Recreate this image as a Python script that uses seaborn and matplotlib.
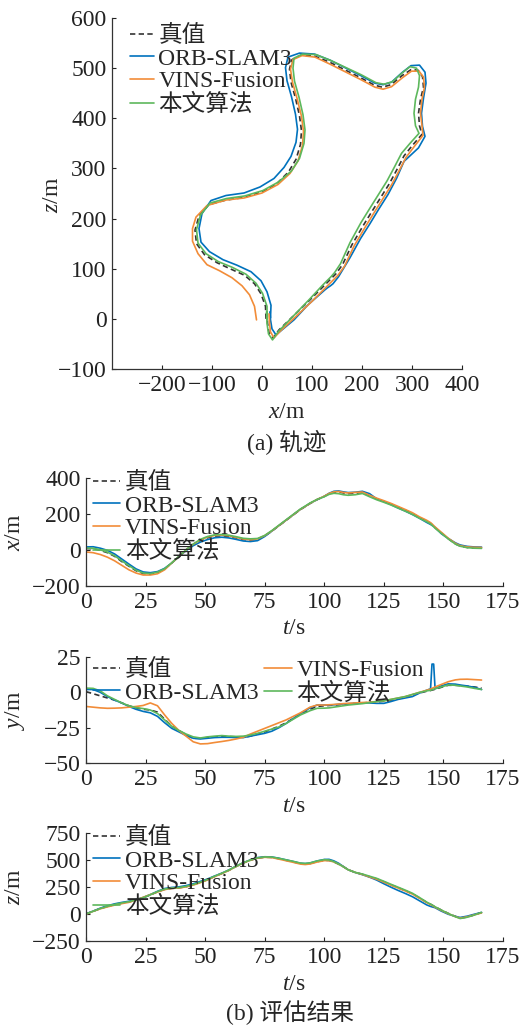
import matplotlib
matplotlib.use("Agg")
import matplotlib.pyplot as plt
import seaborn as sns

# time stamps (s)
T = [0, 3, 6, 9, 12, 15, 18, 21, 24, 27, 30, 33, 36, 39, 42, 45, 48, 51, 54, 57,
     60, 63, 66, 69, 72, 75, 78, 81, 84, 87, 90, 92, 94, 97, 100, 102, 104, 106, 108, 110,
     113, 116, 119, 122, 125, 128, 131, 134, 137, 140, 143, 144.6, 145.2, 145.9, 146.5,
     149, 152, 155, 157, 160, 163, 166]

# ground truth
GT_X = [8, 7, -2, -15, -35, -64, -90, -115, -131, -134, -126, -106, -72, -36, 0, 30, 53, 68, 77, 79,
        75, 67, 58, 55, 60, 78, 105, 135, 165, 195, 225, 241, 258, 280, 298, 312, 321, 323, 317, 313,
        315, 320, 300, 284, 270, 255, 238, 221, 203, 180, 161, 148, 141, 132, 124, 96, 63, 34, 22, 14, 11, 10]
GT_Y = [0.5, -1, -2.5, -4, -5.5, -7.5, -9.5, -11, -12, -12.5, -14, -19, -24, -27, -30, -32.5, -32.5, -32, -31.5, -31.3,
        -31.3, -31.5, -31.8, -31, -29.5, -28, -26, -24, -21.5, -18.5, -15.5, -14, -12, -10, -9.5, -9.3, -9, -8.8, -8.5, -8.2,
        -7.8, -7.5, -7.2, -6.8, -6.3, -5.5, -4.5, -3.3, -1.8, -0.5, 0.8, 1.3, 1.6, 1.9, 2.2, 3.5, 5, 5, 4.8, 4.3, 3.8, 3]
GT_Z = [0, 25, 50, 70, 87, 100, 112, 128, 150, 177, 205, 228, 237, 242, 253, 270, 293, 318, 348, 375,
        405, 440, 472, 498, 517, 526, 524, 512, 497, 482, 466, 462, 467, 485, 497, 496, 483, 462, 438, 410,
        385, 368, 345, 325, 298, 270, 243, 216, 187, 148, 108, 90, 83, 74, 66, 38, 6, -22, -38, -28, -8, 15]

# ORB-SLAM3
ORB_X = [17, 18, 10, -2, -22, -50, -78, -105, -122, -126, -120, -102, -72, -36, -4, 24, 44, 58, 68, 71,
         67, 59, 50, 47, 52, 75, 105, 136, 166, 196, 226, 242, 259, 280, 298, 315, 326, 328, 323, 319,
         321, 326, 313, 284, 269, 252, 233, 216, 197, 176, 153, 142, 137, 131, 126, 92, 64, 40, 28, 20, 17, 16]
ORB_Y = [2, 2, 0, -3, -5.5, -7.5, -10, -12, -13.5, -14.5, -17, -21.5, -25.5, -28, -30.5, -32.5, -33, -32.5, -32, -31.8,
         -31.8, -32, -32, -31, -30, -29, -27.5, -25, -22, -18.5, -15, -13, -11, -9, -9, -9, -8.8, -8.5, -8.2, -8,
         -7.8, -7.5, -7.5, -7.8, -7.8, -6.5, -5, -4, -3, -0.5, 1.5, 2.5, 20, 20, 2.5, 4.5, 6, 5.8, 5.2, 4.5, 3.5, 2]
ORB_Z = [2, 27, 54, 76, 94, 107, 118, 134, 153, 180, 210, 236, 246, 251, 263, 280, 302, 324, 352, 378,
         408, 443, 475, 501, 522, 530, 528, 516, 501, 486, 470, 467, 472, 491, 505, 506, 492, 470, 440, 410,
         384, 364, 341, 314, 280, 248, 218, 190, 160, 122, 84, 70, 66, 62, 58, 28, -2, -22, -32, -20, -2, 14]

# VINS-Fusion
VINS_X = [-11, -15, -25, -40, -60, -85, -110, -128, -139, -139, -132, -110, -72, -36, 0, 32, 56, 72, 81, 83,
          79, 70, 61, 57, 62, 80, 106, 136, 166, 196, 226, 242, 259, 281, 299, 314, 323, 325, 320, 317,
          320, 322, 304, 288, 274, 259, 242, 225, 207, 184, 165, 152, 145, 136, 128, 100, 66, 37, 24, 17, 15, 14]
VINS_Y = [-10, -10.5, -11, -11.3, -11.2, -11, -10.5, -10, -9.3, -7.5, -9.5, -16, -22, -27, -31, -35, -36.5, -36.3, -35.5, -34.8,
          -34, -33, -31.8, -29.5, -27.5, -25.5, -23.5, -21.5, -19.5, -17, -14.5, -12.5, -10.5, -9, -9, -8.8, -8.6, -8.3, -8, -7.8,
          -7.5, -7.2, -7, -6.5, -6, -5, -4, -3, -1.5, 0, 1.5, 2.3, 2.8, 3.3, 3.8, 5.5, 7.5, 8.8, 9.2, 9.3, 9, 8.7]
VINS_Z = [-2, 25, 48, 66, 82, 96, 108, 130, 155, 180, 203, 226, 237, 241, 251, 268, 290, 315, 346, 374,
          404, 440, 472, 498, 517, 525, 522, 508, 493, 478, 462, 458, 463, 481, 494, 494, 482, 462, 438, 410,
          385, 366, 343, 322, 295, 267, 240, 213, 184, 145, 105, 87, 80, 71, 63, 35, 3, -24, -38, -26, -8, 10]

# proposed method
OUR_X = [10, 10, 1, -12, -32, -60, -87, -112, -128, -131, -123, -104, -71, -35, 2, 33, 59, 75, 84, 86,
         82, 74, 65, 62, 64, 81, 108, 138, 168, 198, 228, 244, 261, 281, 296, 309, 315, 313, 307, 304,
         307, 314, 296, 279, 265, 250, 233, 216, 198, 176, 157, 145, 138, 129, 121, 94, 62, 33, 21, 13, 10, 9]
OUR_Y = [3, 2.8, 1, -2.5, -5, -7.5, -9.5, -10.8, -11.5, -12.5, -15, -19.5, -24, -27, -29.5, -31.5, -32.3, -31.5, -31, -30.6,
         -31, -31.2, -31, -30.2, -29, -27.5, -26, -24.5, -22, -19, -16, -14.5, -13, -11.3, -11.2, -11, -10.5, -10, -9.5, -9,
         -8.5, -8, -7.3, -6.5, -6, -5, -4, -3, -1.5, 0, 1, 1.5, 1.8, 2.2, 2.6, 3.8, 5.2, 5, 4.5, 3.8, 2.8, 2]
OUR_Z = [0, 25, 51, 71, 89, 103, 114, 130, 151, 178, 207, 231, 240, 245, 256, 273, 295, 320, 350, 377,
         407, 442, 474, 500, 520, 528, 527, 515, 501, 487, 471, 468, 473, 491, 503, 500, 485, 462, 438, 410,
         385, 370, 350, 330, 303, 275, 248, 221, 192, 152, 110, 92, 84, 75, 67, 38, 5, -25, -42, -30, -9, 14]

NAMES = ["真值", "ORB-SLAM3", "VINS-Fusion", "本文算法"]
COLORS = ["#333333", "#0072BD", "#F28C38", "#5DB85C"]
XS = [GT_X, ORB_X, VINS_X, OUR_X]
YS = [GT_Y, ORB_Y, VINS_Y, OUR_Y]
ZS = [GT_Z, ORB_Z, VINS_Z, OUR_Z]

sns.set_style("ticks")
plt.rcParams["font.family"] = ["Liberation Serif", "Noto Sans CJK SC"]
plt.rcParams["mathtext.fontset"] = "custom"
plt.rcParams["mathtext.rm"] = "Liberation Serif"
plt.rcParams["mathtext.it"] = "Liberation Serif:italic"
FS = 17

W, H = 529, 1029
fig = plt.figure(figsize=(W / 100, H / 100), dpi=100)


def add_ax(left, right, top, bottom):
    return fig.add_axes([left / W, 1 - bottom / H, (right - left) / W, (bottom - top) / H])


def draw(ax, xlists, ylists, sort):
    for name, xs, ys, c in zip(NAMES, xlists, ylists, COLORS):
        ls = (0, (3.2, 2.0)) if name == "真值" else "-"
        sns.lineplot(x=xs, y=ys, ax=ax, sort=sort, estimator=None, color=c,
                     linewidth=1.2, label=name)
        ax.get_lines()[-1].set_linestyle(ls)


def style(ax):
    sns.despine(ax=ax)
    ax.tick_params(direction="in", length=3, width=0.8, labelsize=FS, pad=4, colors="#222222")
    for s in ["left", "bottom"]:
        ax.spines[s].set_linewidth(0.9)
        ax.spines[s].set_color("#333333")
    ax.set_xlabel("")
    ax.set_ylabel("")


def legend(ax, x_px, top_px, handlelength, ncol=1):
    leg = ax.legend(loc="upper left", bbox_to_anchor=(x_px / W, 1 - top_px / H),
                    bbox_transform=fig.transFigure, frameon=False, fontsize=FS,
                    handlelength=handlelength, handletextpad=0.2, labelspacing=0.05,
                    borderpad=0, borderaxespad=0, ncol=ncol, columnspacing=0.25)
    return leg


# (a) trajectory
ax1 = add_ax(112, 462, 18, 369)
draw(ax1, XS, ZS, False)
style(ax1)
ax1.set_xlim(-300, 400)
ax1.set_ylim(-100, 600)
ax1.set_xticks([-200, -100, 0, 100, 200, 300, 400])
ax1.set_yticks([-100, 0, 100, 200, 300, 400, 500, 600])
legend(ax1, 130, 25, 1.0)
fig.text(52 / W, 1 - 195 / H, "$z$/m", rotation=90, ha="center", va="center", fontsize=FS)
fig.text(287 / W, 1 - 413 / H, "$x$/m", ha="center", va="center", fontsize=FS)
fig.text(287 / W, 1 - 443 / H, "(a) 轨迹", ha="center", va="center", fontsize=FS)

# (b) x, y, z over time
panels = [
    (478, 586, XS, (-200, 400), [-200, 0, 200, 400], "$x$/m", 628),
    (657, 763, YS, (-50, 25), [-50, -25, 0, 25], "$y$/m", 807),
    (833, 941, ZS, (-250, 750), [-250, 0, 250, 500, 750], "$z$/m", 985),
]
for i, (top, bottom, data, ylim, yticks, ylab, tlab_y) in enumerate(panels):
    ax = add_ax(86, 503, top, bottom)
    draw(ax, [T] * 4, data, True)
    style(ax)
    ax.set_xlim(0, 175)
    ax.set_ylim(*ylim)
    ax.set_xticks(range(0, 176, 25))
    ax.set_yticks(yticks)
    if i == 1:
        legend(ax, 93, top + 2, 1.15, ncol=2)
    else:
        legend(ax, 93, top - 6, 1.15)
    fig.text(15 / W, 1 - (top + bottom) / 2 / H, ylab, rotation=90, ha="center", va="center", fontsize=FS)
    fig.text(294 / W, 1 - tlab_y / H, "$t$/s", ha="center", va="center", fontsize=FS)

fig.text(290 / W, 1 - 1013 / H, "(b) 评估结果", ha="center", va="center", fontsize=FS)

fig.savefig("out.png", dpi=100)
